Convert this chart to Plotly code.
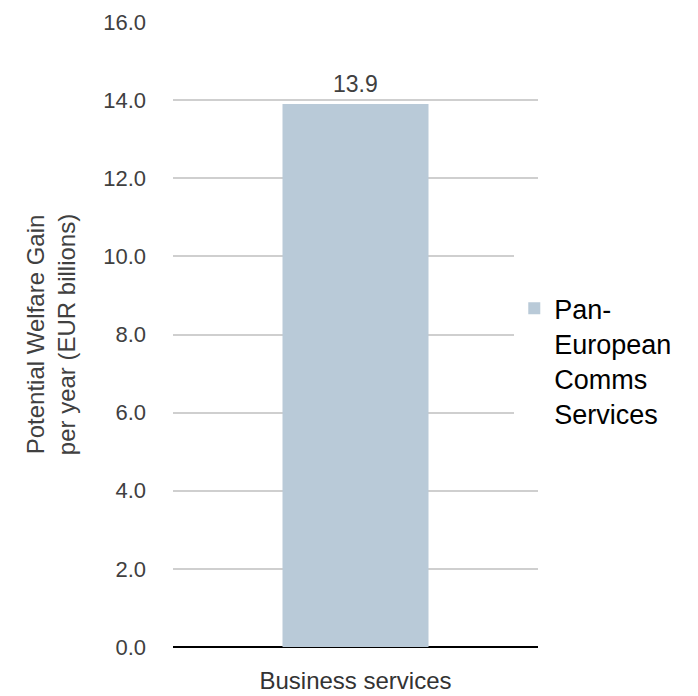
import plotly.graph_objects as go

categories = ["Business services"]
values = [13.9]
series_name = "Pan-<br>European<br>Comms<br>Services"
y_ticks = [0, 2, 4, 6, 8, 10, 12, 14, 16]
y_tick_labels = ["0.0", "2.0", "4.0", "6.0", "8.0", "10.0", "12.0", "14.0", "16.0"]

FONT = "Liberation Sans, Arial, sans-serif"

fig = go.Figure()
fig.add_trace(go.Bar(
    x=categories, y=values, name=series_name,
    marker=dict(color="#b9cad8", line=dict(width=0)),
    showlegend=True,
))

for c, v in zip(categories, values):
    fig.add_annotation(x=c, y=v, text=f"{v:.1f}", showarrow=False,
                       yanchor="bottom", yshift=5,
                       font=dict(family=FONT, size=23, color="#404040"))

fig.update_layout(
    width=690, height=688,
    margin=dict(l=165, r=160, t=14, b=49, autoexpand=False),
    paper_bgcolor="white", plot_bgcolor="white",
    font=dict(family=FONT),
    bargap=0.6,
    legend=dict(
        x=0.935, xanchor="left", y=0.505, yanchor="middle",
        bgcolor="white", borderwidth=0,
        valign="top",
        title=dict(text="&nbsp;", font=dict(family=FONT, size=46)),
        font=dict(family=FONT, size=27, color="#000000"),
    ),
)
fig.update_xaxes(
    showgrid=False, showline=False, zeroline=False,
    ticks="", ticklabelstandoff=17,
    tickfont=dict(family=FONT, size=24, color="#333333"),
    automargin=False,
)
fig.update_yaxes(
    range=[0, 16], tickvals=y_ticks, ticktext=y_tick_labels,
    showgrid=True, gridcolor="#cfcfcf", gridwidth=1.5,
    zeroline=True, zerolinecolor="#000000", zerolinewidth=2,
    showline=False, ticks="", ticklabelstandoff=26,
    tickfont=dict(family=FONT, size=22, color="#404040"),
    title=dict(text="Potential Welfare Gain<br>per year (EUR billions)",
               font=dict(family=FONT, size=24, color="#404040"), standoff=20),
    automargin=False,
)

fig.write_html("out.html")
